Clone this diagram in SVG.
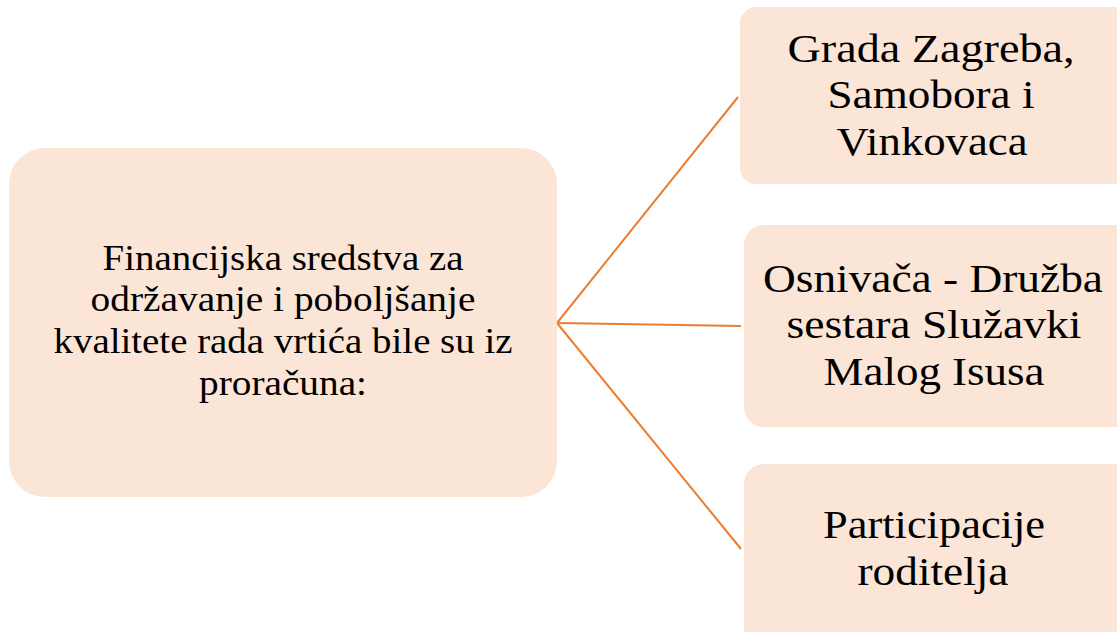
<svg xmlns="http://www.w3.org/2000/svg" width="1117" height="632" viewBox="0 0 1117 632">
<style>
.box{fill:#FBE5D6;}
.conn{stroke:#ED7D31;stroke-width:2;fill:none;}
.t{font-family:"Liberation Serif","Times New Roman",serif;fill:#000;text-anchor:middle;}
.l{font-size:36px;}
.r{font-size:41px;}
</style>
<rect width="1117" height="632" fill="#fff"/>
<g id="connectors">
<line class="conn" x1="557" y1="323" x2="738" y2="97"/>
<line class="conn" x1="557" y1="323" x2="741" y2="326"/>
<line class="conn" x1="557" y1="323" x2="741" y2="549"/>
</g>
<g id="root">
<rect class="box" x="9" y="148" width="548" height="349" rx="36"/>
<text class="t l" x="283" y="270" textLength="361" lengthAdjust="spacingAndGlyphs">Financijska sredstva za</text>
<text class="t l" x="283" y="311" textLength="385" lengthAdjust="spacingAndGlyphs">održavanje i poboljšanje</text>
<text class="t l" x="283" y="353" textLength="459" lengthAdjust="spacingAndGlyphs">kvalitete rada vrtića bile su iz</text>
<text class="t l" x="283" y="395" textLength="168" lengthAdjust="spacingAndGlyphs">proračuna:</text>
</g>
<g id="node1">
<rect class="box" x="740" y="7" width="400" height="177" rx="16"/>
<text class="t r" x="931" y="62" textLength="287" lengthAdjust="spacingAndGlyphs">Grada Zagreba,</text>
<text class="t r" x="931" y="108" textLength="207" lengthAdjust="spacingAndGlyphs">Samobora i</text>
<text class="t r" x="932" y="155" textLength="191" lengthAdjust="spacingAndGlyphs">Vinkovaca</text>
</g>
<g id="node2">
<rect class="box" x="744" y="225" width="400" height="202" rx="20"/>
<text class="t r" x="933" y="292" textLength="340" lengthAdjust="spacingAndGlyphs">Osnivača - Družba</text>
<text class="t r" x="934" y="338" textLength="295" lengthAdjust="spacingAndGlyphs">sestara Služavki</text>
<text class="t r" x="934" y="385" textLength="221" lengthAdjust="spacingAndGlyphs">Malog Isusa</text>
</g>
<g id="node3">
<rect class="box" x="744" y="464" width="400" height="200" rx="20"/>
<text class="t r" x="934" y="538" textLength="222" lengthAdjust="spacingAndGlyphs">Participacije</text>
<text class="t r" x="933" y="585" textLength="151" lengthAdjust="spacingAndGlyphs">roditelja</text>
</g>
</svg>
